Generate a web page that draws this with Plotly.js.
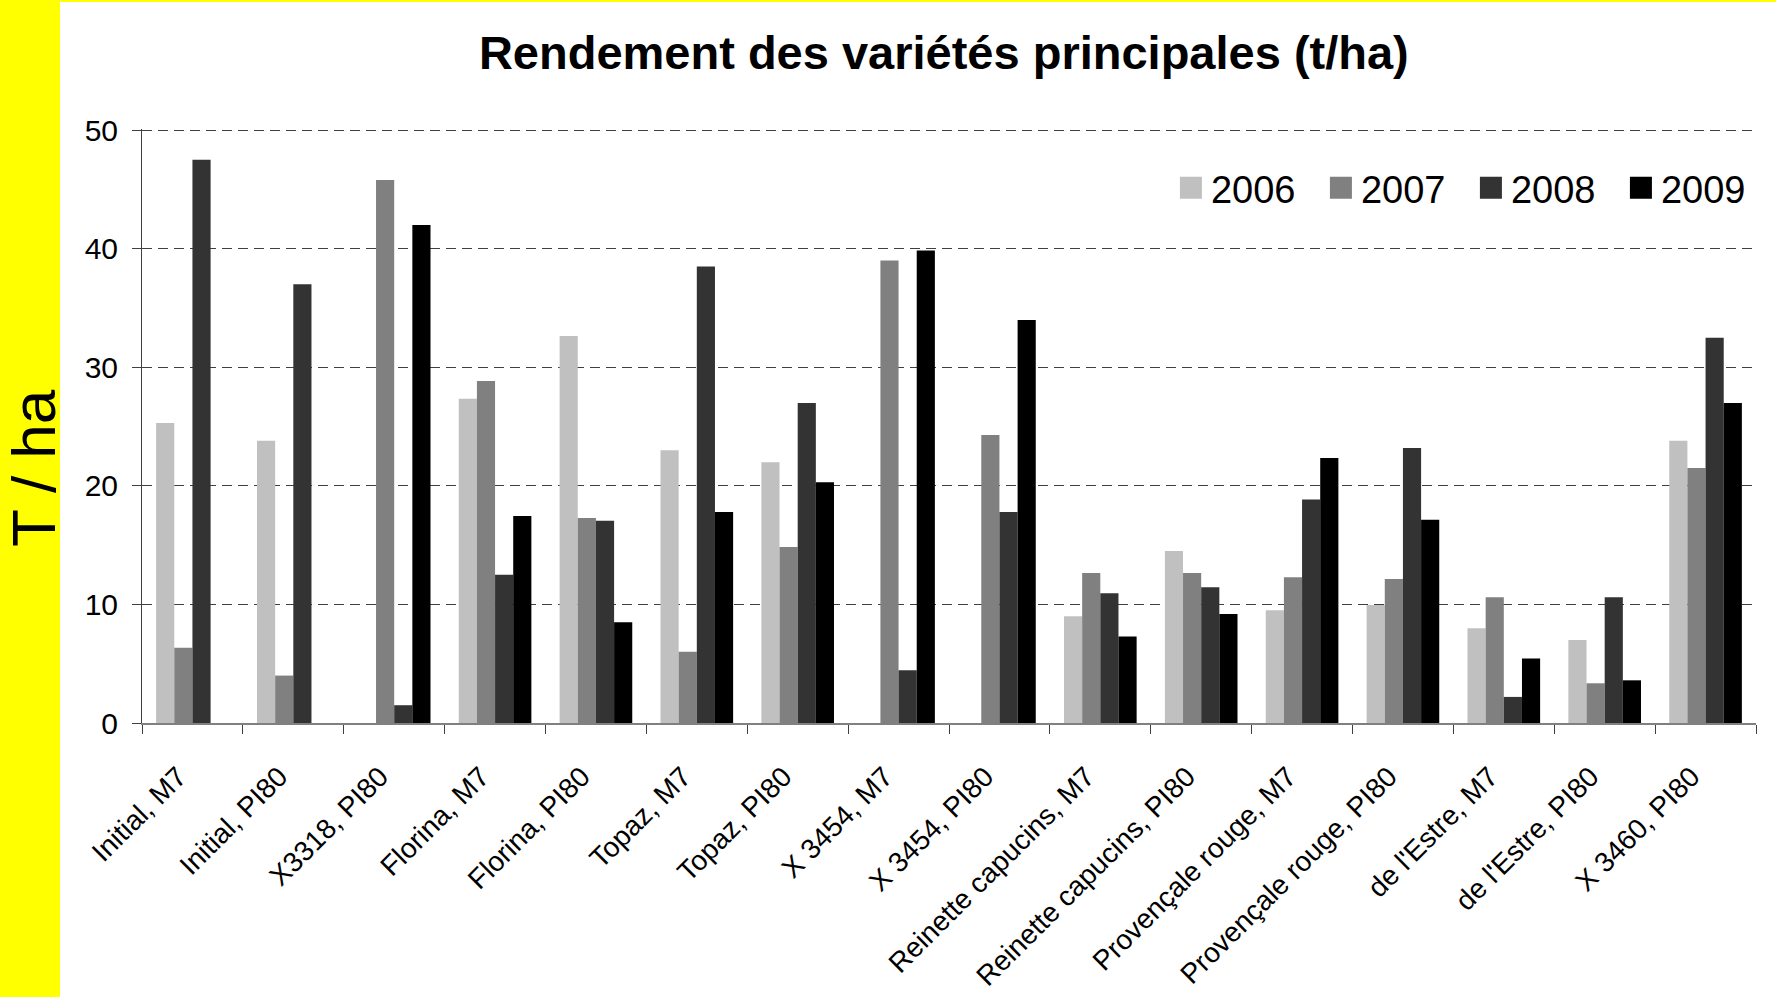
<!DOCTYPE html>
<html>
<head>
<meta charset="utf-8">
<script src="https://cdn.plot.ly/plotly-3.0.1.min.js"></script>
<style>
  html, body { margin: 0; padding: 0; background: #FFFF00; }
  #white { position: absolute; left: 60px; top: 2px; width: 1716px; height: 995px; background: #FFFFFF; }
  #chart { position: absolute; left: 0; top: 0; width: 1776px; height: 997px; }
</style>
</head>
<body>
<div id="white"></div>
<div id="chart"></div>
<script>
const categories = [
  "Initial, M7", "Initial, PI80", "X3318, PI80", "Florina, M7", "Florina, PI80",
  "Topaz, M7", "Topaz, PI80", "X 3454, M7", "X 3454, PI80", "Reinette capucins, M7",
  "Reinette capucins, PI80", "Provençale rouge, M7", "Provençale rouge, PI80",
  "de l'Estre, M7", "de l'Estre, PI80", "X 3460, PI80"
];
const years = ["2006", "2007", "2008", "2009"];
const y2006 = [25.3, 23.8, null, 27.35, 32.65, 23.0, 22.0, null, null, 9.0, 14.5, 9.5, 9.95, 8.0, 7.0, 23.8];
const y2007 = [6.35, 4.0, 45.8, 28.85, 17.3, 6.0, 14.85, 39.0, 24.3, 12.65, 12.65, 12.3, 12.15, 10.6, 3.35, 21.5];
const y2008 = [47.5, 37.0, 1.5, 12.5, 17.05, 38.5, 27.0, 4.45, 17.8, 10.95, 11.45, 18.85, 23.2, 2.2, 10.6, 32.5];
const y2009 = [null, null, 42.0, 17.45, 8.5, 17.8, 20.3, 39.85, 34.0, 7.3, 9.2, 22.35, 17.15, 5.45, 3.6, 27.0];
const yTicks = [0, 10, 20, 30, 40, 50];

const series = [y2006, y2007, y2008, y2009];
const colors = ["#C0C0C0", "#808080", "#333333", "#000000"];
const FONT = "Liberation Sans, Arial, sans-serif";

const traces = series.map((vals, i) => ({
  type: "bar",
  name: years[i],
  x: categories,
  y: vals,
  marker: { color: colors[i], line: { width: 0 } },
  hoverinfo: "x+y+name"
}));

const layout = {
  width: 1776,
  height: 997,
  paper_bgcolor: "rgba(0,0,0,0)",
  plot_bgcolor: "rgba(0,0,0,0)",
  margin: { l: 142, r: 20, t: 129, b: 274, pad: 0, autoexpand: false },
  barmode: "group",
  bargap: 0.28,
  bargroupgap: 0,
  font: { family: FONT, color: "#000000" },
  title: {
    text: "<b>Rendement des variétés principales (t/ha)</b>",
    font: { family: FONT, size: 47, color: "#000000" },
    xref: "paper", x: 0.4968, xanchor: "center",
    yref: "container", y: 0.947, yanchor: "middle"
  },
  showlegend: true,
  legend: {
    orientation: "h",
    xref: "container", yref: "container",
    x: 0.6593, xanchor: "left",
    y: 0.8114, yanchor: "middle",
    font: { family: FONT, size: 38, color: "#000000" },
    bgcolor: "rgba(0,0,0,0)",
    entrywidth: 105,
    entrywidthmode: "pixels",
    traceorder: "normal"
  },
  xaxis: {
    type: "category",
    tickangle: -45,
    tickfont: { family: FONT, size: 28, color: "#000000" },
    ticks: "outside",
    tickson: "boundaries",
    ticklen: 9,
    tickcolor: "#404040",
    tickwidth: 1,
    showline: true,
    linecolor: "#808080",
    linewidth: 2,
    showgrid: false,
    zeroline: false,
    ticklabelstandoff: 24,
    ticklabelshift: -14,
    automargin: false,
    fixedrange: true
  },
  yaxis: {
    range: [0, 50.1],
    tickvals: yTicks,
    ticktext: yTicks.map(String),
    tickfont: { family: FONT, size: 30, color: "#000000" },
    ticks: "outside",
    ticklen: 9,
    tickcolor: "#404040",
    tickwidth: 1,
    showline: true,
    linecolor: "#404040",
    linewidth: 1,
    showgrid: true,
    gridcolor: "#404040",
    gridwidth: 1,
    griddash: "10px,6px",
    zeroline: false,
    ticklabelstandoff: 8,
    automargin: false,
    fixedrange: true
  },
  annotations: [{
    text: "T / ha",
    xref: "paper", yref: "paper",
    x: -0.0676, y: 0.429,
    xanchor: "center", yanchor: "middle",
    textangle: -90,
    showarrow: false,
    font: { family: FONT, size: 62, color: "#000000" }
  }]
};

Plotly.newPlot("chart", traces, layout, { displayModeBar: false, staticPlot: true }).then(gd => {
  gd.querySelectorAll(".legendpoints path").forEach(p => {
    p.setAttribute("d", "M11,11H-11V-11H11Z");
  });
});
</script>
</body>
</html>
